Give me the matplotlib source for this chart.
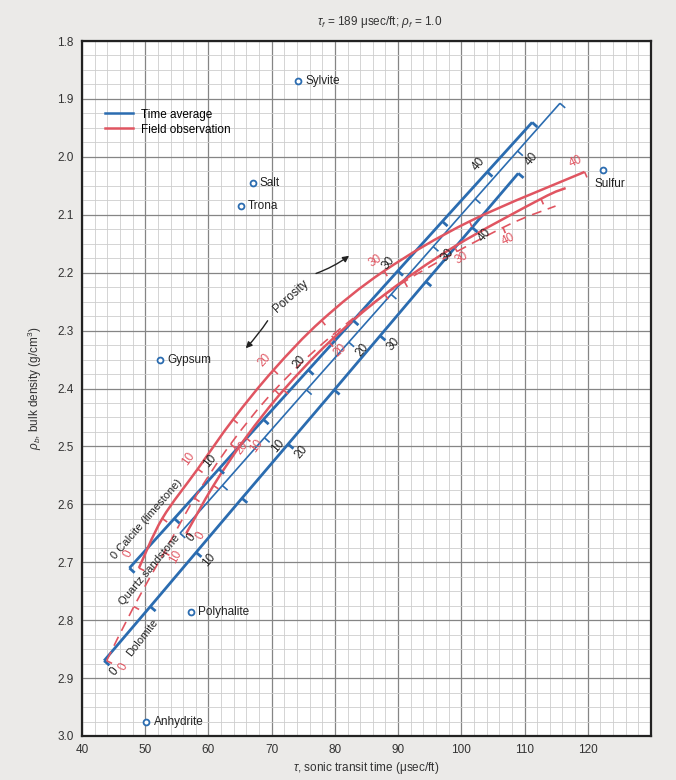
import numpy as np
import matplotlib
matplotlib.use('Agg')
import matplotlib.pyplot as plt
from matplotlib.ticker import MultipleLocator
from matplotlib.path import Path
from matplotlib.patches import PathPatch

plt.rcParams['font.family'] = ['Liberation Sans', 'DejaVu Sans']
plt.rcParams['mathtext.fontset'] = 'custom'
plt.rcParams['mathtext.rm'] = 'Liberation Sans'
plt.rcParams['mathtext.it'] = 'Liberation Sans:italic'

# ---------------- data ----------------
porosity_ta = [0, 5, 10, 15, 20, 25, 30, 35, 40, 45]
calcite_ta_dt = [47.5, 54.6, 61.65, 68.7, 75.8, 82.9, 89.95, 97.0, 104.1, 111.2]
calcite_ta_rho = [2.71, 2.6245, 2.539, 2.4535, 2.368, 2.2825, 2.197, 2.1115, 2.026, 1.9405]
sand_ta_dt = [55.5, 62.2, 68.85, 75.5, 82.2, 88.9, 95.55, 102.2, 108.9, 115.6]
sand_ta_rho = [2.65, 2.5675, 2.485, 2.4025, 2.32, 2.2375, 2.155, 2.0725, 1.99, 1.9075]
dolo_ta_dt = [43.5, 50.8, 58.05, 65.3, 72.6, 79.9, 87.15, 94.4, 101.7, 109.0]
dolo_ta_rho = [2.87, 2.7765, 2.683, 2.5895, 2.496, 2.4025, 2.309, 2.2155, 2.122, 2.0285]

calcite_fo_phi = [0, 5, 10, 15, 20, 25, 30, 35, 40]
calcite_fo_dt = [49.0, 52.7, 58.3, 63.9, 70.3, 77.9, 87.8, 101.3, 119.5]
calcite_fo_rho = [2.71, 2.6245, 2.539, 2.4535, 2.368, 2.2825, 2.197, 2.1115, 2.026]
sand_fo_phi = [0, 5, 10, 15, 20, 25, 30, 35, 36]
sand_fo_dt = [56.5, 60.8, 65.9, 71.9, 79.1, 87.9, 98.9, 112.6, 116.5]
sand_fo_rho = [2.65, 2.5675, 2.485, 2.4025, 2.32, 2.2375, 2.155, 2.0725, 2.054]
dolo_fo_phi = [0, 5, 10, 15, 20, 25, 30, 35, 40, 42]
dolo_fo_dt = [43.9, 48.2, 53.0, 57.8, 63.5, 70.5, 79.5, 91.0, 106.6, 114.9]
dolo_fo_rho = [2.87, 2.7765, 2.683, 2.5895, 2.496, 2.4025, 2.309, 2.2155, 2.122, 2.085]

minerals = ['Sylvite', 'Salt', 'Trona', 'Gypsum', 'Polyhalite', 'Anhydrite', 'Sulfur']
mineral_dt = [74.2, 67.0, 65.1, 52.4, 57.2, 50.2, 122.4]
mineral_rho = [1.869, 2.045, 2.085, 2.351, 2.786, 2.975, 2.022]

ta_labels = [0, 10, 20, 30, 40]
fo_labels_calcite = [0, 10, 20, 30, 40]
fo_labels_sand = [0, 10, 20, 30]
fo_labels_dolo = [0, 10, 20, 40]

BLUE = '#2b6cb0'
RED = '#e05561'

fig = plt.figure(figsize=(6.76, 7.8), dpi=100, facecolor='#ebeae8')
ax = fig.add_axes([82/676, 44/780, 569/676, 695/780])
ax.set_facecolor('white')
ax.set_xlim(40, 130)
ax.set_ylim(3.0, 1.8)
ax.set_xticks(np.arange(40, 121, 10))
ax.set_yticks(np.round(np.arange(1.8, 3.01, 0.1), 1))
ax.set_yticklabels([f'{v:.1f}' for v in np.arange(1.8, 3.01, 0.1)])
ax.xaxis.set_minor_locator(MultipleLocator(2))
ax.yaxis.set_minor_locator(MultipleLocator(0.025))
ax.grid(which='major', color='#858585', lw=0.9)
ax.grid(which='minor', color='#cdcdcd', lw=0.6)
ax.set_axisbelow(True)
ax.tick_params(which='both', length=0, labelsize=8.5, colors='#333333', pad=6)
for s in ax.spines.values():
    s.set_linewidth(1.6)
    s.set_color('#222222')

fig.canvas.draw()
T = ax.transData
Ti = T.inverted()


def stub(dt, rho, dirpt, color, lw, length=7):
    """short perpendicular tick on lower-right side"""
    p = T.transform((dt, rho))
    q = T.transform(dirpt)
    d = q - p
    d = d / np.hypot(*d)
    n = np.array([d[1], -d[0]])
    if n[0] < 0:
        n = -n
    e = Ti.transform(p + n * length)
    ax.plot([dt, e[0]], [rho, e[1]], color=color, lw=lw, solid_capstyle='butt', zorder=4)


def local_angle(xs, ys, i):
    j0 = max(i - 1, 0)
    j1 = min(i + 1, len(xs) - 1)
    a = T.transform((xs[j0], ys[j0]))
    b = T.transform((xs[j1], ys[j1]))
    return np.degrees(np.arctan2(b[1] - a[1], b[0] - a[0]))


def smooth_path(xs, ys):
    P = np.column_stack([xs, ys])
    n = len(P)
    verts = [P[0]]
    codes = [Path.MOVETO]
    for i in range(n - 1):
        p0 = P[i - 1] if i > 0 else P[i]
        p1 = P[i]
        p2 = P[i + 1]
        p3 = P[i + 2] if i + 2 < n else P[i + 1]
        c1 = p1 + (p2 - p0) / 6
        c2 = p2 - (p3 - p1) / 6
        verts += [c1, c2, p2]
        codes += [Path.CURVE4] * 3
    return Path(verts, codes)


# ---------------- time average lines ----------------
ta_sets = [
    (calcite_ta_dt, calcite_ta_rho, 2.0, (-9, 8)),
    (sand_ta_dt, sand_ta_rho, 1.2, (14, -8)),
    (dolo_ta_dt, dolo_ta_rho, 2.0, (13, -8)),
]
for k, (xs, ys, lw, off) in enumerate(ta_sets):
    ax.plot(xs, ys, color=BLUE, lw=lw, zorder=3, solid_capstyle='butt')
    for i, ph in enumerate(porosity_ta):
        nb = (xs[i + 1], ys[i + 1]) if i + 1 < len(xs) else (2 * xs[i] - xs[i - 1], 2 * ys[i] - ys[i - 1])
        stub(xs[i], ys[i], nb, BLUE, lw)
        if ph in ta_labels and not (k == 0 and ph == 0):
            o = off
            if ph == 0 and k == 1:
                o = (11, -4)
            if ph == 0 and k == 2:
                o = (10, -11)
            ax.annotate(str(ph), (xs[i], ys[i]), xytext=o, textcoords='offset pixels',
                        rotation=50, ha='center', va='center', fontsize=8.5, color='#222222', zorder=6)

# ---------------- field observation curves ----------------
fo_sets = [
    (calcite_fo_phi, calcite_fo_dt, calcite_fo_rho, '-', fo_labels_calcite, (-9, 10)),
    (sand_fo_phi, sand_fo_dt, sand_fo_rho, '-', fo_labels_sand, (11, -8)),
    (dolo_fo_phi, dolo_fo_dt, dolo_fo_rho, '--', fo_labels_dolo, (11, -4)),
]
for k, (phis, xs, ys, ls, labs, off) in enumerate(fo_sets):
    lw = 1.8 if ls == '-' else 1.2
    patch = PathPatch(smooth_path(xs, ys), fc='none', ec=RED, lw=lw, zorder=3,
                      linestyle=ls if ls == '-' else (0, (6, 4)))
    ax.add_patch(patch)
    for i, ph in enumerate(phis):
        if ph % 5 != 0:
            continue
        nb = (xs[i + 1], ys[i + 1]) if i + 1 < len(xs) else (2 * xs[i] - xs[i - 1], 2 * ys[i] - ys[i - 1])
        stub(xs[i], ys[i], nb, RED, 1.2, length=6)
        if ph in labs:
            ang = local_angle(xs, ys, i)
            o = off
            if k == 0 and ph == 0:
                o = (-11, 14)
            if k == 1 and ph == 0:
                o = (14, -2)
            if k == 2 and ph == 0:
                o = (17, -6)
            if k == 2 and ph == 40:
                o = (5, -12)
            if k == 1 and ph == 30:
                o = (7, -11)
            ax.annotate(str(ph), (xs[i], ys[i]), xytext=o, textcoords='offset pixels',
                        rotation=ang, ha='center', va='center', fontsize=8.5, color=RED, zorder=6)

# ---------------- lithology names ----------------
ax.text(50.3, 2.626, '0 Calcite (limestone)', rotation=49, ha='center', va='center',
        fontsize=8, color='#222222', zorder=6)
ax.text(50.7, 2.713, 'Quartz sandstone', rotation=50, ha='center', va='center',
        fontsize=8, color='#222222', zorder=6)
ax.text(49.6, 2.83, 'Dolomite', rotation=52, ha='center', va='center',
        fontsize=8, color='#222222', zorder=6)

# ---------------- minerals ----------------
ax.scatter(mineral_dt, mineral_rho, s=18, facecolors='white', edgecolors=BLUE, linewidths=1.3, zorder=5)
for name, x, y in zip(minerals, mineral_dt, mineral_rho):
    if name == 'Sulfur':
        ax.annotate(name, (x, y), xytext=(7, -14), textcoords='offset pixels', ha='center',
                    va='center', fontsize=8.5, color='#222222')
    else:
        ax.annotate(name, (x, y), xytext=(7, 0), textcoords='offset pixels', ha='left',
                    va='center', fontsize=8.5, color='#222222')

# ---------------- porosity arrows ----------------
ax.text(73.1, 2.240, 'Porosity', rotation=42, ha='center', va='center', fontsize=8.5, color='#222222')
ax.annotate('', xy=(65.6, 2.334), xytext=(69.6, 2.279),
            arrowprops=dict(arrowstyle='-|>', color='#222222', lw=1.0, mutation_scale=9,
                            connectionstyle='arc3,rad=-0.05'))
ax.annotate('', xy=(82.6, 2.168), xytext=(76.6, 2.203),
            arrowprops=dict(arrowstyle='-|>', color='#222222', lw=1.0, mutation_scale=9,
                            connectionstyle='arc3,rad=0.08'))

# ---------------- legend ----------------
ax.plot([], [], color=BLUE, lw=1.8, label='Time average')
ax.plot([], [], color=RED, lw=1.8, label='Field observation')
ax.legend(loc='upper left', bbox_to_anchor=(0.022, 0.918), frameon=False, fontsize=8.5,
          handlelength=2.4, labelspacing=0.25, handletextpad=0.6)

# ---------------- titles ----------------
fig.text(380/676, 1 - 22/780, r'$\tau_f$ = 189 μsec/ft; $\rho_f$ = 1.0', ha='center', va='center',
         fontsize=8.5, color='#333333')
fig.text(366/676, 1 - 768/780, r'$\tau$, sonic transit time (μsec/ft)', ha='center', va='center',
         fontsize=8.5, color='#333333')
fig.text(35/676, 1 - 388/780, r'$\rho_b$, bulk density (g/cm$^3$)', ha='center', va='center',
         rotation=90, fontsize=8.5, color='#333333')

fig.savefig('out.png', dpi=100, facecolor=fig.get_facecolor())
